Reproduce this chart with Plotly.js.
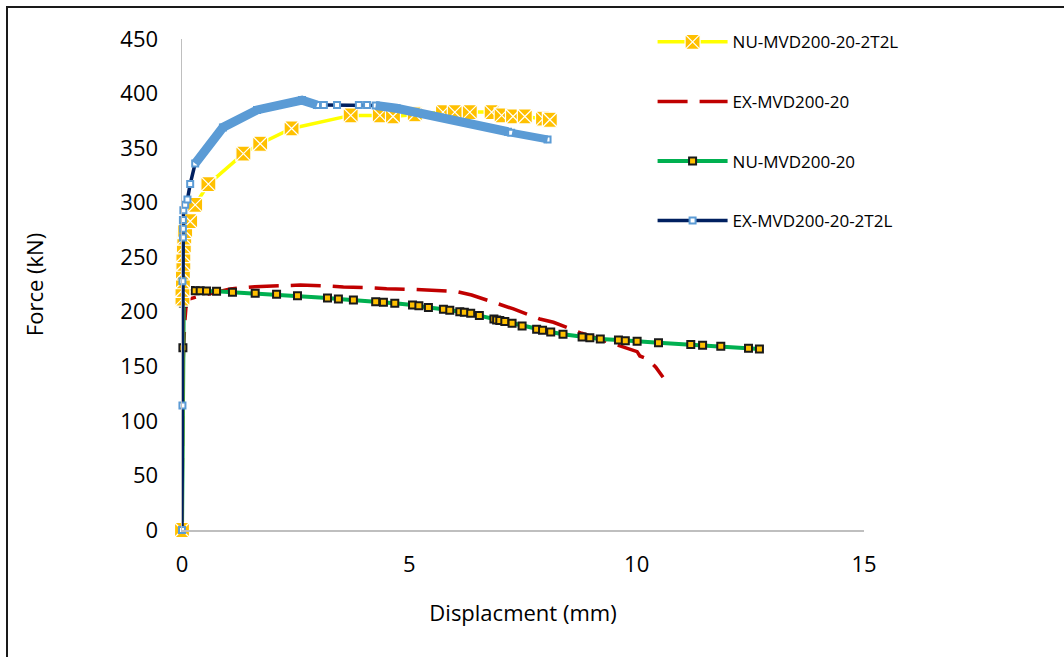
<!DOCTYPE html>
<html>
<head>
<meta charset="utf-8">
<script src="https://cdn.plot.ly/plotly-3.0.1.min.js"></script>
<style>
  html, body { margin: 0; padding: 0; background: #fff; overflow: hidden; }
  #chart { position: absolute; left: 0; top: 0; width: 1064px; height: 657px; }
  #frame { position: absolute; left: 6px; top: 6px; width: 1200px; height: 800px;
           border-left: 2px solid #1a1a1a; border-top: 2px solid #1a1a1a; pointer-events: none; }
</style>
</head>
<body>
<div id="chart"></div>
<div id="frame"></div>
<script>
// ---- Data ----
// NU-MVD200-20-2T2L (numerical, strengthened)
const nu2t2lX = [0, 0.01, 0.01, 0.02, 0.02, 0.03, 0.03, 0.04, 0.05, 0.07, 0.18, 0.29, 0.58, 1.35, 1.72, 2.41, 3.71, 4.35, 4.64, 5.12, 5.74, 6.00, 6.33, 6.81, 7.03, 7.28, 7.54, 7.94, 8.09];
const nu2t2lY = [0, 212, 220, 228, 236, 244, 252, 260, 268, 274, 283, 298, 317, 345, 354, 368, 380, 380, 379, 381, 383, 383, 383, 383, 380, 379, 379, 377, 376];

// EX-MVD200-20 (experimental, control)
const ex20X = [0, 0.02, 0.06, 0.10, 0.40, 1.06, 1.60, 2.23, 2.60, 3.22, 3.55, 4.17, 4.50, 5.12, 5.45, 6.04, 6.37, 6.96, 7.29, 7.87, 8.17, 8.79, 9.70, 10.01, 10.07, 10.25, 10.42, 10.58];
const ex20Y = [0, 150, 190, 211, 214.5, 221, 223, 224.3, 224.5, 223.6, 222.7, 222, 221.2, 220.5, 220, 218.5, 215.4, 207.2, 202.6, 193.4, 190.4, 180.3, 168, 163.5, 159.5, 156.5, 149.2, 140];

// NU-MVD200-20 (numerical, control)
const nu20X = [0, 0.02, 0.03, 0.03, 0.04, 0.05, 0.18, 0.29, 0.40, 0.54, 0.76, 1.11, 1.61, 2.08, 2.54, 3.20, 3.44, 3.77, 4.26, 4.43, 4.68, 5.07, 5.21, 5.42, 5.75, 5.89, 6.11, 6.21, 6.35, 6.54, 6.86, 6.92, 6.99, 7.10, 7.26, 7.48, 7.80, 7.93, 8.11, 8.38, 8.80, 8.97, 9.20, 9.60, 9.75, 10.01, 10.48, 11.19, 11.45, 11.85, 12.46, 12.70];
const nu20Y = [0, 167, 208, 212, 216, 220, 219.5, 219.3, 219.2, 219, 218.8, 218, 217, 216, 214.8, 212.6, 211.7, 210.8, 209.3, 208.7, 207.8, 206.2, 205.6, 204, 202.3, 201.4, 200.1, 199.6, 198.6, 196.5, 193.4, 192.5, 191.9, 191, 189.5, 187, 184, 183, 181.5, 179.4, 176.9, 176.3, 175, 174.2, 173.5, 173, 171.7, 169.9, 169.3, 168.4, 166.5, 165.9];

// EX-MVD200-20-2T2L (experimental, strengthened)
const ex2t2lX = [0, 0.01, 0.01, 0.02, 0.02, 0.02, 0.03, 0.07, 0.12, 0.18, 0.29, 0.90, 1.65, 2.64, 2.97, 3.12, 3.41, 3.89, 4.07, 4.26, 4.72, 7.17, 7.24, 8.04];
const ex2t2lY = [0, 114, 228, 268, 276, 284, 293, 298, 303, 317, 336, 369, 385, 394, 389.5, 389.5, 389.5, 389.5, 389.5, 389, 386.5, 365, 364, 358];
// Dense-marker stretches of the EX-MVD200-20-2T2L record (drawn as a band)
const bandAX = [0.29, 0.90, 1.65, 2.64, 2.97];
const bandAY = [336, 369, 385, 394, 389.5];
const bandBX = [4.26, 4.72, 7.17];
const bandBY = [389, 386.5, 365];
const bandCX = [7.26, 8.04];
const bandCY = [364, 358];

const xTicks = [0, 5, 10, 15];
const yTicks = [0, 50, 100, 150, 200, 250, 300, 350, 400, 450];

const FONT = '"Open Sans", "Noto Sans", sans-serif';
const lightBlue = '#5B9BD5';

const traces = [
  {
    name: 'EX-MVD200-20', x: ex20X, y: ex20Y, type: 'scatter', mode: 'lines',
    line: { color: '#C00000', width: 3.5, dash: '30px,12px' },
    legendgroup: 'b', legendrank: 2, cliponaxis: false
  },
  {
    name: 'NU-MVD200-20', x: nu20X, y: nu20Y, type: 'scatter', mode: 'lines+markers',
    line: { color: '#00B050', width: 4 },
    marker: { symbol: 'square', size: 7, color: '#FFC000', line: { color: '#1a1a1a', width: 2 } },
    legendgroup: 'c', legendrank: 3, cliponaxis: false
  },
  {
    name: 'NU-MVD200-20-2T2L', x: nu2t2lX, y: nu2t2lY, type: 'scatter', mode: 'lines+markers',
    line: { color: '#FFFF00', width: 3.5 },
    marker: { symbol: 'square-x', size: 15, color: '#FFC000', line: { color: '#FFFFFF', width: 1.2 } },
    legendgroup: 'a', legendrank: 1, cliponaxis: false
  },
  {
    name: 'EX-MVD200-20-2T2L', x: ex2t2lX, y: ex2t2lY, type: 'scatter', mode: 'lines+markers',
    line: { color: '#002060', width: 3.5 },
    marker: { symbol: 'square', size: 6, color: '#FFFFFF', line: { color: lightBlue, width: 2 } },
    legendgroup: 'd', legendrank: 4, cliponaxis: false
  },
  { x: bandAX, y: bandAY, type: 'scatter', mode: 'lines', line: { color: lightBlue, width: 9 }, showlegend: false, hoverinfo: 'skip', cliponaxis: false },
  { x: bandBX, y: bandBY, type: 'scatter', mode: 'lines', line: { color: lightBlue, width: 9 }, showlegend: false, hoverinfo: 'skip', cliponaxis: false },
  { x: bandCX, y: bandCY, type: 'scatter', mode: 'lines', line: { color: lightBlue, width: 8 }, showlegend: false, hoverinfo: 'skip', cliponaxis: false }
];

const layout = {
  width: 1064, height: 657,
  margin: { l: 182, r: 200, t: 39, b: 127 },
  paper_bgcolor: '#FFFFFF', plot_bgcolor: '#FFFFFF',
  font: { family: FONT, color: '#000000', size: 22 },
  showlegend: true,
  legend: {
    x: 0.69, y: 1.03, xanchor: 'left', yanchor: 'top',
    font: { family: FONT, size: 17, color: '#000' },
    tracegroupgap: 34.5, itemwidth: 70, bgcolor: 'rgba(0,0,0,0)'
  },
  xaxis: {
    range: [0, 15], tickvals: xTicks, ticktext: xTicks.map(String),
    showgrid: false, zeroline: false, showline: true, linecolor: '#BFBFBF', linewidth: 1.5,
    ticks: '', ticklabelstandoff: 14, tickfont: { family: FONT, size: 22, color: '#000' },
    title: { text: 'Displacment (mm)', font: { family: FONT, size: 22, color: '#000' }, standoff: 28 }
  },
  yaxis: {
    range: [0, 450], tickvals: yTicks, ticktext: yTicks.map(String),
    showgrid: false, zeroline: false, showline: true, linecolor: '#BFBFBF', linewidth: 1.5,
    ticks: '', ticklabelstandoff: 18, tickfont: { family: FONT, size: 22, color: '#000' },
    title: { text: 'Force (kN)', font: { family: FONT, size: 22, color: '#000' }, standoff: 70 }
  }
};

Plotly.newPlot('chart', traces, layout, { displayModeBar: false, staticPlot: true });
</script>
</body>
</html>
